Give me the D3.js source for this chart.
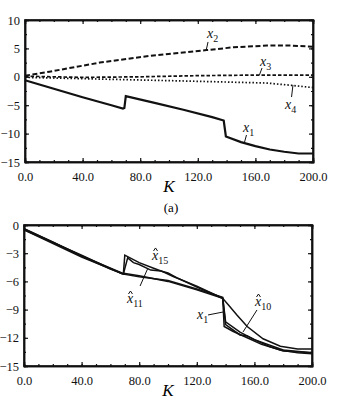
<!DOCTYPE html>
<html>
<head>
<meta charset="utf-8">
<script src="https://cdn.jsdelivr.net/npm/d3@7"></script>
<style>
  body { margin: 0; background: #fff; }
  svg, svg text { font-family: "Liberation Serif", "DejaVu Serif", serif; }
  .axis path, .axis line { stroke: #111; }
  .axis text { font-size: 12.5px; fill: #111; font-family: "Liberation Serif", serif; }
</style>
</head>
<body>
<div id="chart"></div>
<script>
// K axis
const kTicks = [0, 40, 80, 120, 160, 200];
const topYTicks = [10, 5, 0, -5, -10, -15];
const botYTicks = [0, -3, -6, -9, -12, -15];

// (a) state trajectories, [K, value]
const topX1 = [[0,-0.6],[20,-2.1],[40,-3.6],[60,-5.0],[68,-5.6],[69,-5.5],[70,-3.4],[90,-4.6],[110,-5.8],[130,-7.1],[138,-7.7],[139.5,-10.5],[150,-11.5],[160,-12.2],[170,-12.8],[180,-13.2],[190,-13.5],[200,-13.5]];
const topX2 = [[0,0.2],[17,0.9],[52,2.5],[87,3.7],[126,4.7],[145,5.2],[168,5.5],[185,5.5],[200,5.3]];
const topX3 = [[0,0.1],[40,-0.1],[80,0.0],[120,0.2],[160,0.3],[200,0.3]];
const topX4 = [[0,-0.1],[52,-0.4],[121,-0.8],[168,-1.1],[185,-1.5],[200,-1.9]];

// lower panel: true x1 and estimates
const botX1 = [[0,-0.4],[20,-1.8],[40,-3.3],[60,-4.7],[69,-5.2],[70,-3.2],[80,-4.0],[90,-4.6],[97,-5.0],[104,-5.5],[120,-6.5],[138,-7.8],[139,-10.8],[145,-11.3],[155,-12.0],[165,-12.7],[178,-13.3],[190,-13.6],[200,-13.7]];
const botX15 = [[0,-0.5],[40,-3.4],[69,-5.2],[72,-3.5],[76,-4.0],[80,-4.2],[88,-4.8],[95,-4.9],[100,-5.1],[106,-5.6],[120,-6.6],[138,-7.8],[140,-10.6],[150,-11.7],[155,-11.8],[160,-12.2],[170,-12.9],[180,-13.4],[200,-13.6]];
const botX11 = [[0,-0.5],[40,-3.2],[68,-5.2],[80,-5.5],[100,-5.9],[120,-6.8],[138,-7.7],[140,-10.3],[150,-11.4],[160,-12.2],[180,-13.3],[200,-13.6]];
const botX10 = [[0,-0.4],[40,-3.3],[68,-5.1],[80,-5.4],[100,-6.0],[120,-6.9],[138,-7.8],[142,-8.5],[148,-9.6],[155,-10.8],[166,-12.1],[178,-12.9],[190,-13.2],[200,-13.2]];

const svg = d3.select('#chart').append('svg')
  .attr('width', 351)
  .attr('height', 400);

function panel(box, yDomain, yTicks, yMinorStep) {
  const x = d3.scaleLinear().domain([0, 200]).range([box.left, box.right]);
  const y = d3.scaleLinear().domain(yDomain).range([box.top, box.bottom]);
  const g = svg.append('g');

  const minorK = d3.range(0, 201, 10);
  const minorY = d3.range(yDomain[1], yDomain[0] + 0.001, yMinorStep);

  // minor ticks, all four sides
  g.append('g').attr('class', 'axis').attr('transform', `translate(0,${box.bottom})`)
    .call(d3.axisBottom(x).tickValues(minorK).tickSize(-2).tickFormat(''));
  g.append('g').attr('class', 'axis').attr('transform', `translate(0,${box.top})`)
    .call(d3.axisTop(x).tickValues(minorK).tickSize(-2).tickFormat(''));
  g.append('g').attr('class', 'axis').attr('transform', `translate(${box.left},0)`)
    .call(d3.axisLeft(y).tickValues(minorY).tickSize(-2).tickFormat(''));
  g.append('g').attr('class', 'axis').attr('transform', `translate(${box.right},0)`)
    .call(d3.axisRight(y).tickValues(minorY).tickSize(-2).tickFormat(''));

  // major ticks with labels
  g.append('g').attr('class', 'axis').attr('transform', `translate(0,${box.bottom})`)
    .call(d3.axisBottom(x).tickValues(kTicks).tickSize(-4).tickPadding(10).tickFormat(d3.format('.1f')));
  g.append('g').attr('class', 'axis').attr('transform', `translate(${box.left},0)`)
    .call(d3.axisLeft(y).tickValues(yTicks).tickSize(-4).tickPadding(5));
  g.append('g').attr('class', 'axis').attr('transform', `translate(${box.right},0)`)
    .call(d3.axisRight(y).tickValues(yTicks).tickSize(-4).tickFormat(''));
  g.append('g').attr('class', 'axis').attr('transform', `translate(0,${box.top})`)
    .call(d3.axisTop(x).tickValues(kTicks).tickSize(-4).tickFormat(''));

  g.selectAll('.axis').attr('font-family', null);
  g.selectAll('.axis path').attr('stroke-width', 1.5);
  g.selectAll('.axis line').attr('stroke-width', 1.2);

  // frame
  g.append('rect')
    .attr('x', box.left).attr('y', box.top)
    .attr('width', box.right - box.left).attr('height', box.bottom - box.top)
    .attr('fill', 'none').attr('stroke', '#111').attr('stroke-width', 1.6);

  // K label
  g.append('text')
    .attr('x', x(100)).attr('y', box.bottom + 30)
    .attr('text-anchor', 'middle')
    .style('font-style', 'italic').style('font-size', '17px')
    .text('K');

  return { g, x, y };
}

const line = (x, y) => d3.line().x(d => x(d[0])).y(d => y(d[1]));

function label(g, px, py, sub, hat) {
  const t = g.append('text').attr('x', px).attr('y', py)
    .style('font-size', '14px').style('font-style', 'italic').attr('fill', '#111');
  t.append('tspan').text('x');
  t.append('tspan').attr('dy', 4).style('font-size', '10px').style('font-style', 'normal').text(sub);
  if (hat) {
    g.append('path')
      .attr('d', `M${px + 1.5},${py - 9} L${px + 3.5},${py - 12} L${px + 5.5},${py - 9}`)
      .attr('fill', 'none').attr('stroke', '#111').attr('stroke-width', 1);
  }
}

function leader(g, x1, y1, x2, y2) {
  g.append('line').attr('x1', x1).attr('y1', y1).attr('x2', x2).attr('y2', y2)
    .attr('stroke', '#111').attr('stroke-width', 1);
}

// ---------- top panel ----------
const topP = panel({ left: 25, right: 313, top: 20, bottom: 162 }, [10, -15], topYTicks, 2.5);
const lt = line(topP.x, topP.y);

topP.g.append('path').attr('d', lt(topX2)).attr('fill', 'none')
  .attr('stroke', '#111').attr('stroke-width', 2).attr('stroke-dasharray', '5,2.5');
topP.g.append('path').attr('d', lt(topX3)).attr('fill', 'none')
  .attr('stroke', '#111').attr('stroke-width', 1.7).attr('stroke-dasharray', '3.5,2');
topP.g.append('path').attr('d', lt(topX4)).attr('fill', 'none')
  .attr('stroke', '#111').attr('stroke-width', 1.7).attr('stroke-dasharray', '1.5,2');
topP.g.append('path').attr('d', lt(topX1)).attr('fill', 'none')
  .attr('stroke', '#111').attr('stroke-width', 2.2);

label(topP.g, topP.x(126.4), topP.y(6.83), '2');
leader(topP.g, topP.x(127.1), topP.y(6.13), topP.x(125.7), topP.y(4.54));
label(topP.g, topP.x(163.2), topP.y(1.9), '3');
leader(topP.g, topP.x(164.6), topP.y(1.55), topP.x(162.8), topP.y(0.32));
label(topP.g, topP.x(180.6), topP.y(-5.67), '4');
leader(topP.g, topP.x(186.1), topP.y(-1.44), topP.x(185.1), topP.y(-3.56));
label(topP.g, topP.x(151.4), topP.y(-9.72), '1');
leader(topP.g, topP.x(153.8), topP.y(-10.25), topP.x(152.1), topP.y(-11.83));

svg.append('text').attr('x', 171).attr('y', 212)
  .attr('text-anchor', 'middle').style('font-size', '13px').text('(a)');

// ---------- bottom panel ----------
const botP = panel({ left: 24, right: 312, top: 225, bottom: 366 }, [0, -15], botYTicks, 1.5);
const lb = line(botP.x, botP.y);

[botX10, botX11, botX15, botX1].forEach(s => {
  botP.g.append('path').attr('d', lb(s)).attr('fill', 'none')
    .attr('stroke', '#111').attr('stroke-width', 1.5);
});

label(botP.g, botP.x(88.9), botP.y(-3.72), '15', true);
label(botP.g, botP.x(71.5), botP.y(-8.3), '11', true);
leader(botP.g, botP.x(80.6), botP.y(-6.49), botP.x(86.1), botP.y(-4.57));
label(botP.g, botP.x(120.1), botP.y(-10.0), '1');
leader(botP.g, botP.x(127.8), botP.y(-9.57), botP.x(138.2), botP.y(-9.26));
label(botP.g, botP.x(160.4), botP.y(-8.62), '10', true);
leader(botP.g, botP.x(161.8), botP.y(-9.04), botP.x(152.1), botP.y(-11.38));
</script>
</body>
</html>
